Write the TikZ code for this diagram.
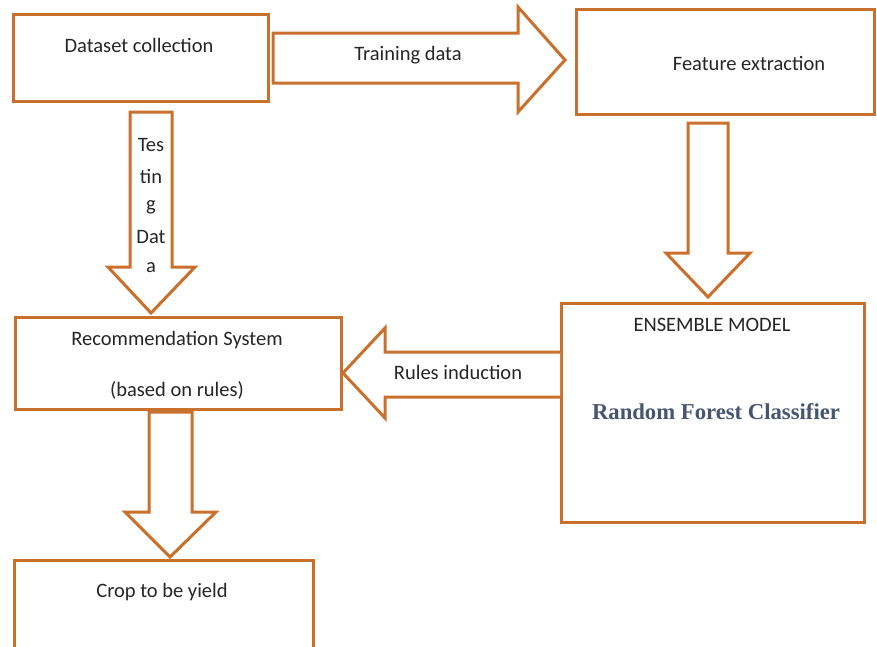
\documentclass[tikz,border=0pt]{standalone}
\usepackage{fontspec}
\setmainfont{Carlito}
\newfontfamily\rfcfont{Liberation Serif}
\definecolor{ostroke}{HTML}{C8702C}
\definecolor{otext}{HTML}{262626}
\definecolor{rfcblue}{HTML}{475670}
\tikzset{
  boxst/.style={draw=ostroke, line width=3pt, fill=white, rectangle, inner sep=0pt},
  arrowst/.style={draw=ostroke, line width=3pt, fill=white, line join=miter},
  lbl/.style={text=otext, font=\fontsize{20.5}{22}\selectfont, inner sep=0pt},
}
\begin{document}
\begin{tikzpicture}[x=1pt,y=-1pt]
\useasboundingbox (0,0) rectangle (877,646);
\clip (0,0) rectangle (877,646);
% boxes
\node[boxst, anchor=north west, minimum width=255pt, minimum height=87pt] (ds) at (12,13) {};
\node[boxst, anchor=north west, minimum width=298pt, minimum height=105pt] (fe) at (575,8) {};
\node[boxst, anchor=north west, minimum width=326pt, minimum height=92pt] (rs) at (14,316) {};
\node[boxst, anchor=north west, minimum width=303pt, minimum height=219pt] (em) at (560,302) {};
\node[boxst, anchor=north west, minimum width=299pt, minimum height=100pt] (cy) at (13,559) {};
% block arrows
\draw[arrowst] (273,33) -- (518,33) -- (518,7) -- (565,60) -- (518,112) -- (518,83) -- (273,83) -- cycle;
\draw[arrowst] (130,112) -- (172,112) -- (172,267) -- (195,267) -- (151,313) -- (108,267) -- (130,267) -- cycle;
\draw[arrowst] (688,123) -- (728,123) -- (728,253) -- (750,253) -- (708,297) -- (666,253) -- (688,253) -- cycle;
\draw[arrowst] (560,352) -- (385,352) -- (385,328) -- (343,373) -- (385,418) -- (385,397) -- (560,397);
\draw[arrowst] (149,412) -- (192,412) -- (192,512) -- (216,512) -- (170,557) -- (125,512) -- (149,512) -- cycle;
% texts
\node[lbl] (tds) at (139,45) {Dataset collection};
\node[lbl] (ttr) at (408,55) {Training data};
\node[lbl] (tfe) at (749,63) {Feature extraction};
\node[lbl] (tt1) at (151,145) {Tes};
\node[lbl] (tt2) at (151,176) {tin};
\node[lbl] (tt3) at (151,207) {g};
\node[lbl] (tt4) at (151,237) {Dat};
\node[lbl] (tt5) at (151,268) {a};
\node[lbl] (trs) at (177,340) {Recommendation System};
\node[lbl] (tbr) at (177,390) {(based on rules)};
\node[lbl] (tri) at (458,372) {Rules induction};
\node[lbl] (tem) at (712,325) {ENSEMBLE MODEL};
\node[text=rfcblue, font=\rfcfont\bfseries\fontsize{22.7}{24}\selectfont, inner sep=0pt] (trf) at (716,412) {Random Forest Classifier};
\node[lbl] (tcy) at (162,592) {Crop to be yield};
\end{tikzpicture}
\end{document}
